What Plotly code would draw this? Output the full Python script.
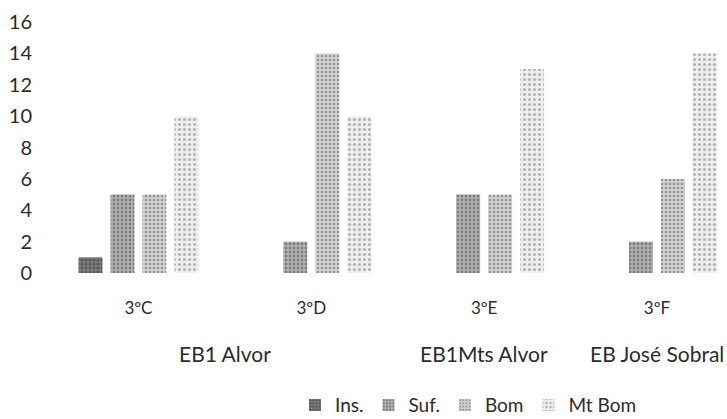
import plotly.graph_objects as go

classes = ["3ºC", "3ºD", "3ºE", "3ºF"]
schools = ["EB1 Alvor", "EB1 Alvor", "EB1Mts Alvor", "EB José Sobral"]
series_names = ["Ins.", "Suf.", "Bom", "Mt Bom"]
ins = [1, 0, 0, 0]
suf = [5, 2, 5, 2]
bom = [5, 14, 5, 6]
mt_bom = [10, 10, 13, 14]
y_ticks = [0, 2, 4, 6, 8, 10, 12, 14, 16]

values = [ins, suf, bom, mt_bom]
styles = [
    dict(bg="#7e7e7e", fg="#2e2e2e", size=4, sol=0.45),
    dict(bg="#b4b4b4", fg="#444444", size=4, sol=0.4),
    dict(bg="#d2d2d2", fg="#555555", size=4, sol=0.35),
    dict(bg="#eeeeee", fg="#777777", size=5, sol=0.3),
]

FONT = "Lato, 'Open Sans', sans-serif"
TXT = "#2b2b2b"

fig = go.Figure()
for name, vals, st in zip(series_names, values, styles):
    fig.add_trace(go.Bar(
        x=classes, y=vals, name=name,
        marker=dict(
            color=st["bg"],
            line=dict(width=0),
            pattern=dict(shape=".", bgcolor=st["bg"], fgcolor=st["fg"],
                         size=st["size"], solidity=st["sol"], fillmode="overlay"),
        ),
    ))

# second-level category labels (schools)
seen = []
for s in schools:
    if s not in seen:
        seen.append(s)
for s in seen:
    idx = [i for i, v in enumerate(schools) if v == s]
    fig.add_annotation(
        x=sum(idx) / len(idx), xref="x", y=-0.322, yref="paper",
        text=s, showarrow=False, yanchor="middle", xanchor="center",
        font=dict(family=FONT, size=21, color=TXT),
    )

fig.update_layout(
    width=727, height=419,
    margin=dict(l=52, r=0, t=22, b=146, autoexpand=False),
    paper_bgcolor="white", plot_bgcolor="white",
    barmode="group", bargap=0.26, bargroupgap=0.25,
    showlegend=True,
    legend=dict(orientation="h", x=0.36, xanchor="left",
                y=0.033, yref="container", yanchor="middle",
                font=dict(family=FONT, size=19, color=TXT),
                itemwidth=30, tracegroupgap=0),
    font=dict(family=FONT, size=17, color=TXT),
)
fig.update_xaxes(
    type="category", categoryorder="array", categoryarray=classes,
    range=[-0.5, 3.405], automargin=False,
    showline=False, showgrid=False, ticks="", ticklabelstandoff=23,
    tickfont=dict(family=FONT, size=17, color=TXT),
)
fig.update_yaxes(
    range=[0, 16], tickvals=y_ticks, showgrid=False, zeroline=False,
    showline=False, ticks="", ticklabelstandoff=19, automargin=False,
    tickfont=dict(family=FONT, size=20, color=TXT),
)

fig.write_html("out.html")
